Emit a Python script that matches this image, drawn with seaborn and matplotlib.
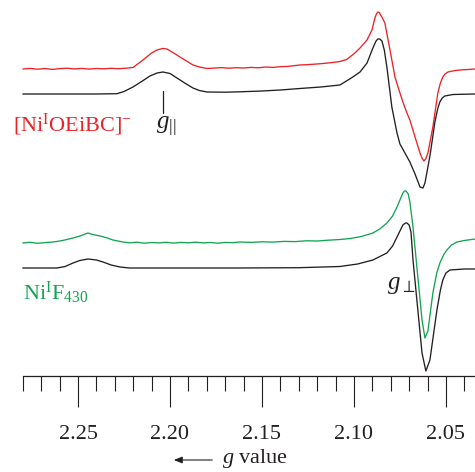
import numpy as np
import pandas as pd
import seaborn as sns
import matplotlib
matplotlib.use("Agg")
import matplotlib.pyplot as plt
from matplotlib.ticker import FixedLocator

# g values and derivative intensity (arbitrary units, 0 = baseline)
red_g = [2.280, 2.276, 2.272, 2.268, 2.264, 2.260, 2.256, 2.252, 2.248, 2.244, 2.240, 2.236,
         2.232, 2.228, 2.224, 2.2201, 2.2147, 2.2100, 2.2071, 2.2040, 2.2016, 2.1980, 2.1946,
         2.1910, 2.1875, 2.1840, 2.1799, 2.176, 2.172, 2.168, 2.164, 2.160, 2.156, 2.152,
         2.148, 2.144, 2.140, 2.136, 2.1294, 2.124, 2.118, 2.112, 2.1076, 2.1040, 2.1022,
         2.0995, 2.0967, 2.0929, 2.0902, 2.0886, 2.0878, 2.0870, 2.0862, 2.0855, 2.0845,
         2.0832, 2.0804, 2.0777, 2.0750, 2.0730, 2.0712, 2.0696, 2.0668, 2.0641, 2.0630,
         2.0620, 2.0610, 2.0598, 2.0571, 2.0544, 2.0530, 2.0517, 2.0505, 2.0489, 2.0450,
         2.0424, 2.038, 2.0342]
red_val = [0, 0.6, -0.2, 0.5, -0.4, 0.4, 0.8, 0.1, 0.6, -0.1, 0.5, 0.2,
           0.7, 0.3, 0.8, 1.5, 9, 16, 19, 20.5, 20, 16, 12,
           8, 4, 2, 0.5, 0.9, 1.4, 0.8, 1.3, 1.0, 1.6, 1.2,
           2.0, 1.6, 2.3, 2.6, 4, 4.5, 5.3, 6.4, 7.5, 9.5, 12,
           16, 21, 29, 39, 51, 55, 57, 56.5, 54, 51,
           46, 19, -8, -24, -35, -44, -51, -68, -84, -89,
           -92, -90, -84, -58, -24, -14, -8, -5, -3, -1.5,
           -1, -0.5, 0]

sim1_g = [2.280, 2.240, 2.2288, 2.2250, 2.2201, 2.2150, 2.2109, 2.2070, 2.2038, 2.2000,
          2.1962, 2.1920, 2.1875, 2.1840, 2.1799, 2.170, 2.162, 2.150, 2.140, 2.1294,
          2.118, 2.1076, 2.1006, 2.0967, 2.0929, 2.0897, 2.0880, 2.0870, 2.0860, 2.0848,
          2.0835, 2.0821, 2.0794, 2.0766, 2.0750, 2.0723, 2.0696, 2.0668, 2.0641, 2.0625,
          2.0614, 2.0587, 2.0560, 2.0545, 2.0533, 2.0520, 2.0506, 2.0462, 2.0342]
sim1_val = [0, 0, 0.3, 2.5, 7, 13, 18, 21, 22, 20.5,
            16, 11, 6, 3.5, 2, 1.8, 2.2, 3, 4, 5.5,
            7, 9, 17, 22, 31, 46, 53, 55, 55, 53,
            44, 27, -13, -39, -50, -59, -68, -80, -93, -94,
            -89, -62, -28, -15, -8, -4, -2, -0.5, 0]

green_g = [2.280, 2.276, 2.272, 2.268, 2.264, 2.2598, 2.256, 2.2527, 2.249, 2.2446, 2.242,
           2.238, 2.234, 2.231, 2.2256, 2.222, 2.218, 2.214, 2.210, 2.206, 2.202, 2.198,
           2.194, 2.190, 2.186, 2.182, 2.178, 2.174, 2.170, 2.166, 2.162, 2.156, 2.150,
           2.144, 2.138, 2.132, 2.126, 2.120, 2.114, 2.1076, 2.102, 2.096, 2.0897, 2.0860,
           2.0821, 2.0790, 2.0766, 2.0750, 2.0734, 2.0725, 2.0717, 2.0705, 2.0696, 2.0679,
           2.0658, 2.0630, 2.0614, 2.0598, 2.0571, 2.0550, 2.0533, 2.0510, 2.0495, 2.0470,
           2.0440, 2.040, 2.0342]
green_val = [0, 0.7, -0.3, 0.4, 0.9, 2, 3.5, 5, 7, 10, 8.5,
             7, 5, 3, 1, 0.2, 0.8, -0.2, 0.5, 0.1, 0.7, -0.1,
             0.6, 0.2, 0.8, 0.1, 0.5, -0.2, 0.6, 0.3, 1, 0.6, 1.2,
             0.9, 1.6, 1.4, 2.2, 2.0, 2.8, 3.5, 4.5, 6.5, 10, 14,
             20, 27, 36, 43, 50, 52, 52, 49, 41, 16,
             -24, -77, -95, -88, -50, -30, -20, -11, -7, -2,
             1, 2.5, 4]

sim2_g = [2.280, 2.2614, 2.257, 2.2527, 2.249, 2.2446, 2.240, 2.2364, 2.232, 2.2272, 2.222,
          2.162, 2.130, 2.1076, 2.098, 2.0897, 2.0821, 2.0790, 2.0766, 2.0734, 2.0720,
          2.0712, 2.0700, 2.0690, 2.0679, 2.0658, 2.0630, 2.0609, 2.0587, 2.0549, 2.0530,
          2.0517, 2.0500, 2.0478, 2.0400, 2.0342]
sim2_val = [0, 0, 1.5, 5, 7.5, 9, 8, 6, 3, 1, 0,
            0, 0.3, 1.5, 4, 8, 15, 22, 31, 43, 45,
            45, 43, 36, 8, -32, -85, -103, -92, -42, -22,
            -12, -5, -2, -1, -1]

tick_major = [2.25, 2.20, 2.15, 2.10, 2.05]
tick_labels = ["2.25", "2.20", "2.15", "2.10", "2.05"]
tick_minor = [2.28, 2.27, 2.26, 2.24, 2.23, 2.22, 2.21, 2.19, 2.18, 2.17, 2.16,
              2.14, 2.13, 2.12, 2.11, 2.09, 2.08, 2.07, 2.06, 2.04]

RED = "#ec2227"
GREEN = "#11a551"
BLACK = "#231f20"

sns.set_style("white")
plt.rcParams["font.family"] = ["Liberation Serif", "DejaVu Serif"]
plt.rcParams["mathtext.fontset"] = "custom"
plt.rcParams["mathtext.rm"] = "Liberation Serif"
plt.rcParams["mathtext.it"] = "Liberation Serif:italic"

fig = plt.figure(figsize=(4.75, 4.72), dpi=100)
ax = fig.add_axes([0, 96 / 472, 1, 376 / 472])

traces = [(red_g, red_val, 307, RED), (sim1_g, sim1_val, 282, BLACK),
          (green_g, green_val, 133, GREEN), (sim2_g, sim2_val, 108, BLACK)]
for g, v, off, col in traces:
    df = pd.DataFrame({"g": g, "y": np.array(v) + off})
    sns.lineplot(data=df, x="g", y="y", sort=False, estimator=None,
                 color=col, lw=0.95, ax=ax)

ax.set_xlim(2.2924, 2.0342)
ax.set_ylim(0, 376)
ax.set_xlabel("")
ax.set_ylabel("")
ax.set_yticks([])
for s in ["left", "top", "right"]:
    ax.spines[s].set_visible(False)
ax.spines["bottom"].set_bounds(2.28, 2.0342)
ax.spines["bottom"].set_color(BLACK)
ax.spines["bottom"].set_linewidth(0.9)

ax.xaxis.set_major_locator(FixedLocator(tick_major))
ax.xaxis.set_minor_locator(FixedLocator(tick_minor))
ax.set_xticklabels(tick_labels)
ax.tick_params(axis="x", which="major", direction="out", length=22, width=0.8,
               color=BLACK, labelsize=16, pad=13, labelcolor=BLACK, bottom=True)
ax.tick_params(axis="x", which="minor", direction="out", length=11, width=0.8,
               color=BLACK, bottom=True)

# g parallel / perpendicular markers
ax.plot([2.2038, 2.2038], [376 - 91, 376 - 113], color=BLACK, lw=0.9)
ax.text(2.2022, 376 - 127, r"$g_{||}$", fontsize=18, color=BLACK, ha="center", va="center")
ax.text(2.0745, 376 - 285, r"$g_{\perp}$", fontsize=18, color=BLACK, ha="center", va="center")

ax.text(2.2854, 376 - 125, r"[Ni$^{\mathrm{I}}$OEiBC]$^{-}$", fontsize=16, color=RED,
        ha="left", va="center")
ax.text(2.2799, 376 - 293, r"Ni$^{\mathrm{I}}$F$_{430}$", fontsize=16, color=GREEN,
        ha="left", va="center")

fig.text(222 / 475, 1 - 458 / 472, r"$g$ value", fontsize=16, color=BLACK,
         ha="left", va="center")
fig.add_artist(matplotlib.patches.FancyArrowPatch(
    (215 / 475, 1 - 460 / 472), (171 / 475, 1 - 460 / 472),
    transform=fig.transFigure, arrowstyle="-|>,head_length=5,head_width=2",
    color=BLACK, lw=0.8, mutation_scale=1))

fig.savefig("out.png", dpi=100)
